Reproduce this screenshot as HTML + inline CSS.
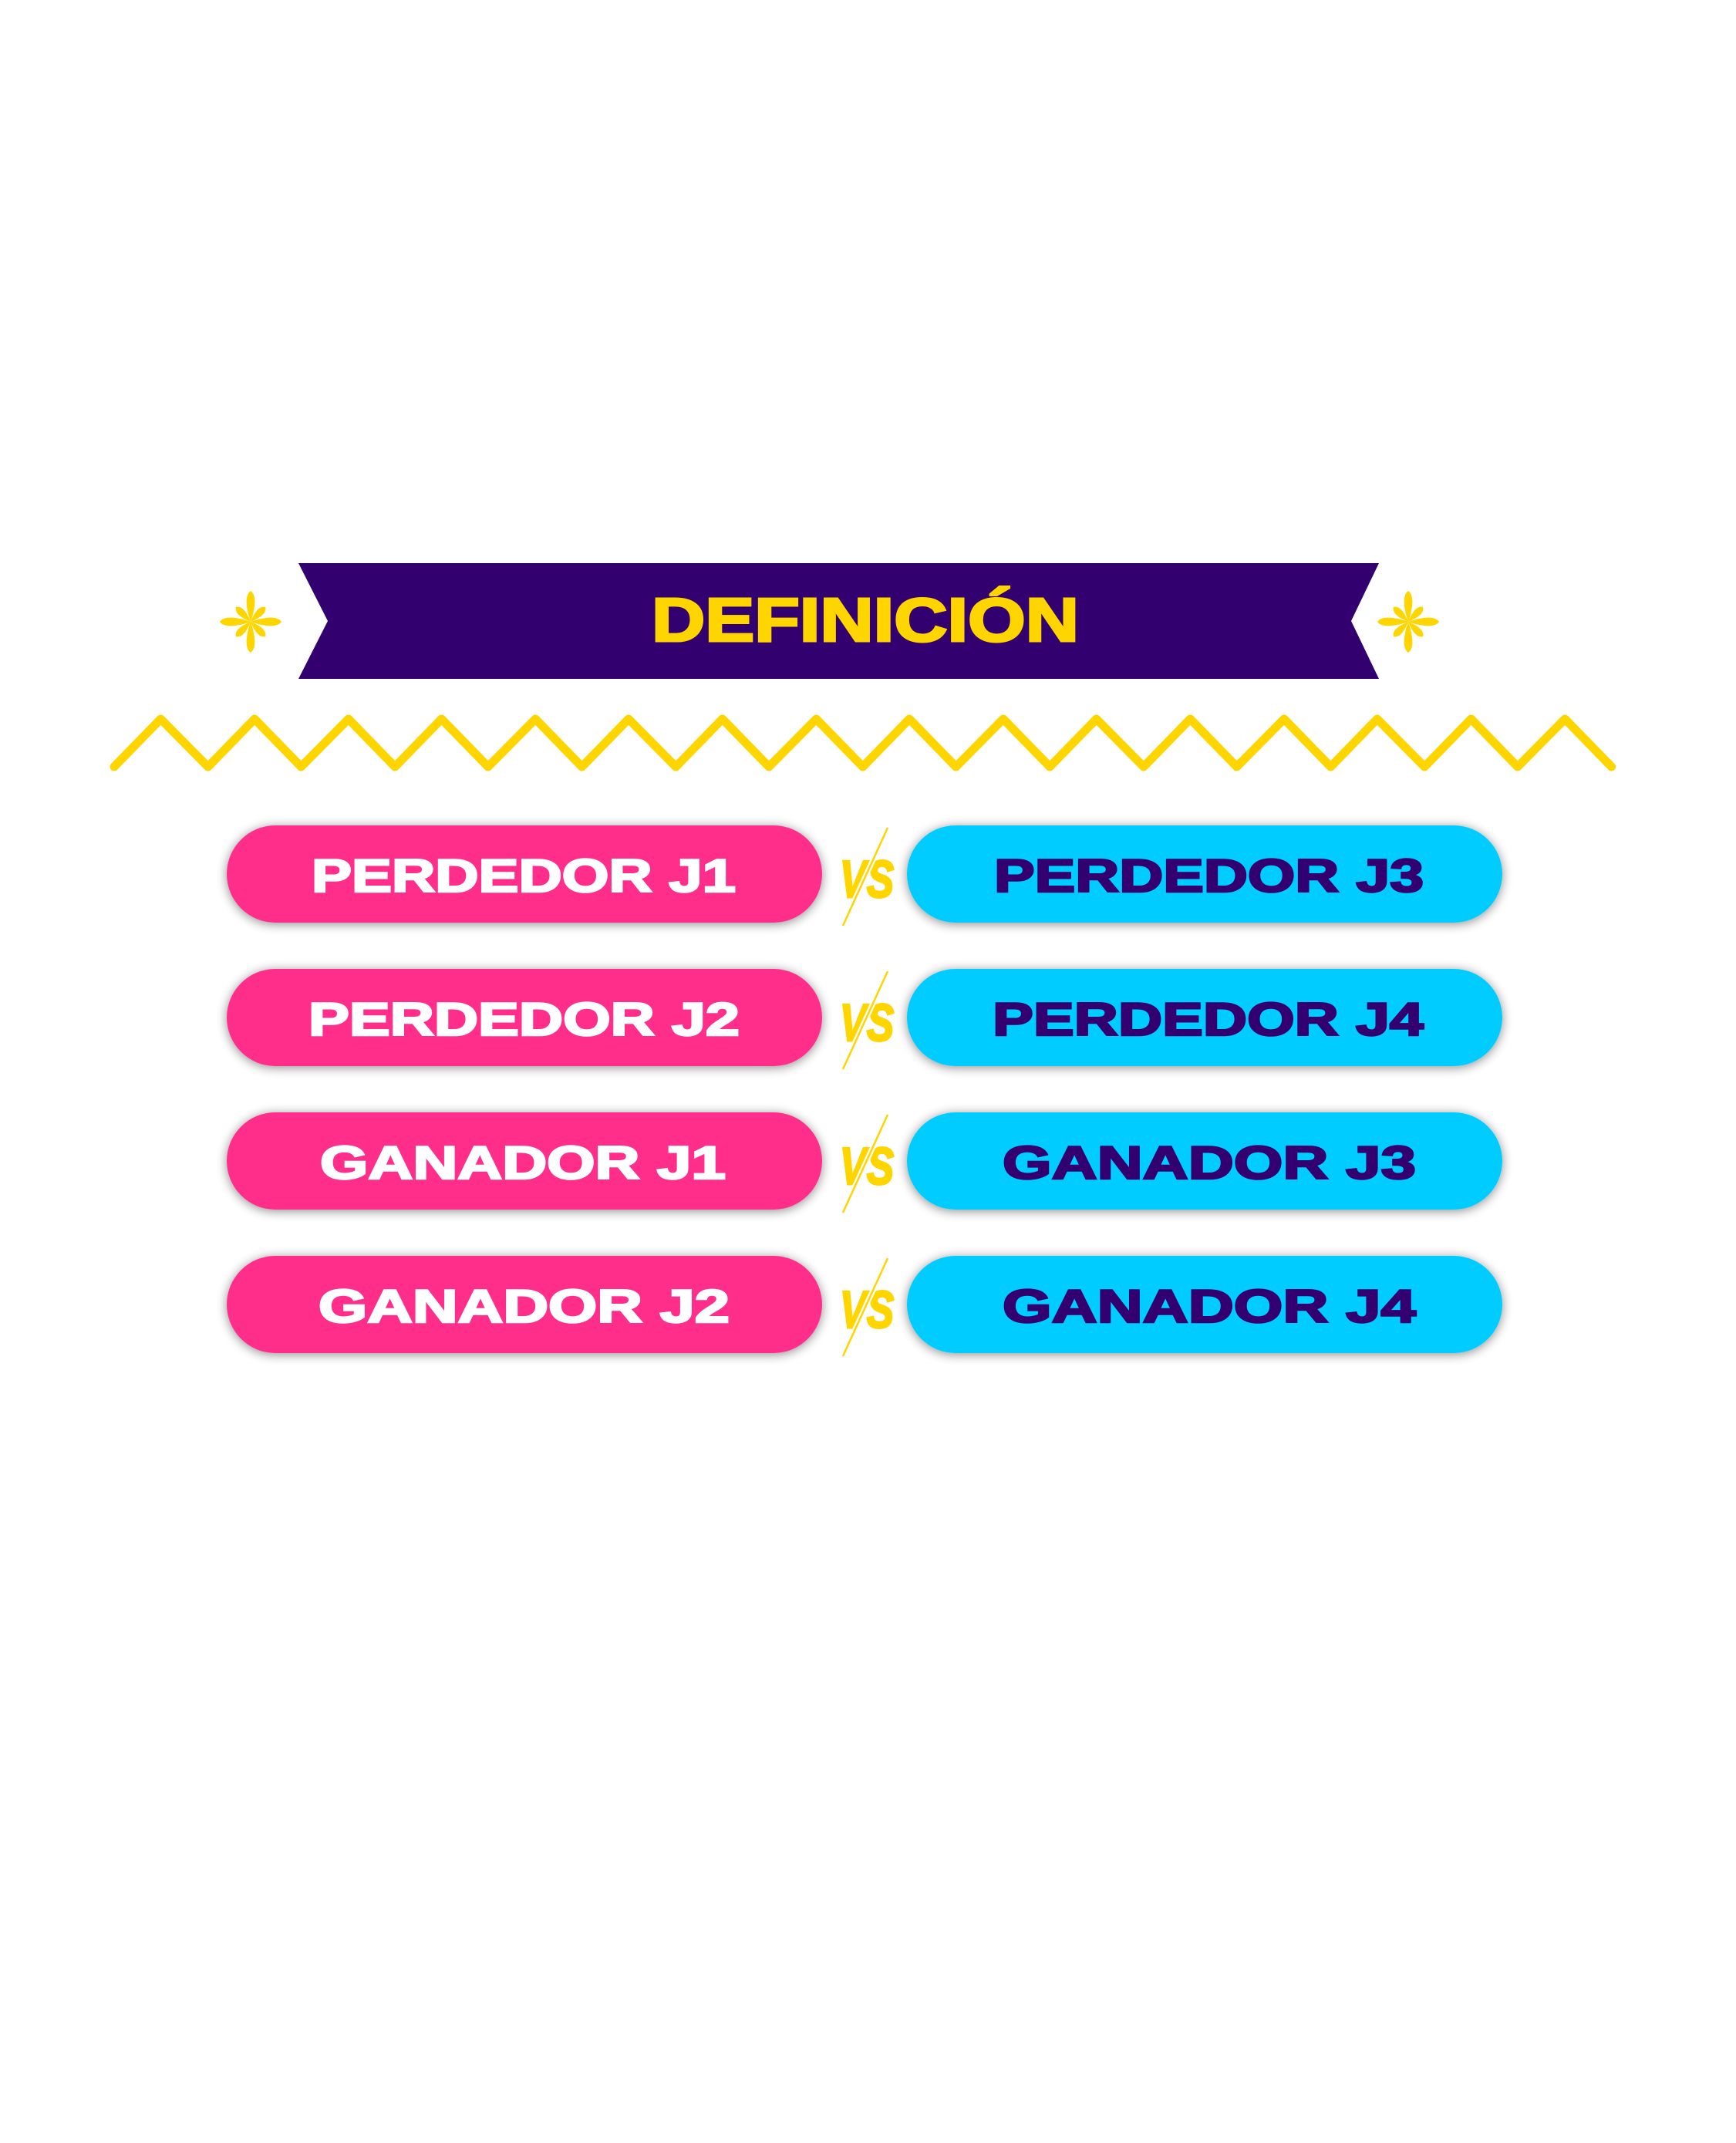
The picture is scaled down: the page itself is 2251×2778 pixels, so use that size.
<!DOCTYPE html>
<html><head><meta charset="utf-8"><style>
html,body{margin:0;padding:0;background:#fff;}
svg{display:block}
text{font-family:"Liberation Sans",sans-serif;font-weight:bold;}
</style></head><body>
<svg width="2251" height="2778" viewBox="0 0 2251 2778" xmlns="http://www.w3.org/2000/svg">
<defs>
<filter id="sh" x="-10%" y="-30%" width="120%" height="160%">
<feGaussianBlur in="SourceAlpha" stdDeviation="7"/>
<feOffset dx="0" dy="2"/>
<feComponentTransfer><feFuncA type="linear" slope="0.45"/></feComponentTransfer>
<feMerge><feMergeNode/><feMergeNode in="SourceGraphic"/></feMerge>
</filter>
<g id="ast" fill="#FFD500">
<path id="pv" d="M0,0 C5,-14 9,-34 0,-40 C-9,-34 -5,-14 0,0Z"/>
<use href="#pv" transform="rotate(90)"/>
<use href="#pv" transform="rotate(180)"/>
<use href="#pv" transform="rotate(270)"/>
<path d="M0,0 C4,-10 8,-22 0,-27 C-8,-22 -4,-10 0,0Z" transform="rotate(45)"/>
<path d="M0,0 C4,-10 8,-22 0,-27 C-8,-22 -4,-10 0,0Z" transform="rotate(135)"/>
<path d="M0,0 C4,-10 8,-22 0,-27 C-8,-22 -4,-10 0,0Z" transform="rotate(225)"/>
<path d="M0,0 C4,-10 8,-22 0,-27 C-8,-22 -4,-10 0,0Z" transform="rotate(315)"/>
</g>
<g id="vs">
<text x="1124" y="1163" font-size="68" font-style="italic" fill="#FFD500" stroke="#FFD500" stroke-width="3" text-anchor="middle" textLength="70" lengthAdjust="spacingAndGlyphs">VS</text>
<line x1="1151" y1="1073" x2="1093" y2="1200" stroke="#fff" stroke-width="7"/>
<line x1="1151" y1="1073" x2="1093" y2="1200" stroke="#FFD500" stroke-width="2.5"/>
</g>
</defs>

<polygon points="387,730 1788,730 1752,805 1788,880 387,880 425,805" fill="#330070"/>
<text x="1122" y="831" font-size="80" fill="#FFD500" stroke="#FFD500" stroke-width="3" text-anchor="middle" textLength="554" lengthAdjust="spacingAndGlyphs">DEFINICIÓN</text>
<use href="#ast" x="325" y="806"/>
<use href="#ast" x="1826" y="806"/>

<polyline fill="none" stroke="#FFD500" stroke-width="11" stroke-linecap="round" stroke-linejoin="round" transform="translate(148,0) scale(1.006,1) translate(-148,0)"
points="148,994 208,932 269,994 329,932 389,994 450,932 510,994 570,932 630,994 691,932 751,994 811,932 872,994 932,932 992,994 1053,932 1113,994 1173,932 1233,994 1294,932 1354,994 1414,932 1475,994 1535,932 1595,994 1656,932 1716,994 1776,932 1837,994 1897,932 1957,994 2018,932 2078,994"/>

<g filter="url(#sh)">
<rect x="294" y="1070" width="772" height="126" rx="63" fill="#FF2D8A"/>
<rect x="1176" y="1070" width="772" height="126" rx="63" fill="#00CCFF"/>
<rect x="294" y="1256" width="772" height="126" rx="63" fill="#FF2D8A"/>
<rect x="1176" y="1256" width="772" height="126" rx="63" fill="#00CCFF"/>
<rect x="294" y="1442" width="772" height="126" rx="63" fill="#FF2D8A"/>
<rect x="1176" y="1442" width="772" height="126" rx="63" fill="#00CCFF"/>
<rect x="294" y="1628" width="772" height="126" rx="63" fill="#FF2D8A"/>
<rect x="1176" y="1628" width="772" height="126" rx="63" fill="#00CCFF"/>
</g>

<g font-size="60" stroke-width="2.5">
<text x="404" y="1156" fill="#fff" stroke="#fff" textLength="550" lengthAdjust="spacingAndGlyphs">PERDEDOR  J1</text>
<text x="1289" y="1156" fill="#330070" stroke="#330070" textLength="557" lengthAdjust="spacingAndGlyphs">PERDEDOR  J3</text>
<text x="400" y="1342" fill="#fff" stroke="#fff" textLength="559" lengthAdjust="spacingAndGlyphs">PERDEDOR  J2</text>
<text x="1287" y="1342" fill="#330070" stroke="#330070" textLength="559" lengthAdjust="spacingAndGlyphs">PERDEDOR  J4</text>
<text x="415" y="1528" fill="#fff" stroke="#fff" textLength="526" lengthAdjust="spacingAndGlyphs">GANADOR  J1</text>
<text x="1300" y="1528" fill="#330070" stroke="#330070" textLength="536" lengthAdjust="spacingAndGlyphs">GANADOR  J3</text>
<text x="413" y="1714" fill="#fff" stroke="#fff" textLength="533" lengthAdjust="spacingAndGlyphs">GANADOR  J2</text>
<text x="1300" y="1714" fill="#330070" stroke="#330070" textLength="536" lengthAdjust="spacingAndGlyphs">GANADOR  J4</text>
</g>

<use href="#vs" x="0" y="0"/>
<use href="#vs" x="0" y="186"/>
<use href="#vs" x="0" y="372"/>
<use href="#vs" x="0" y="558"/>
</svg>
</body></html>
